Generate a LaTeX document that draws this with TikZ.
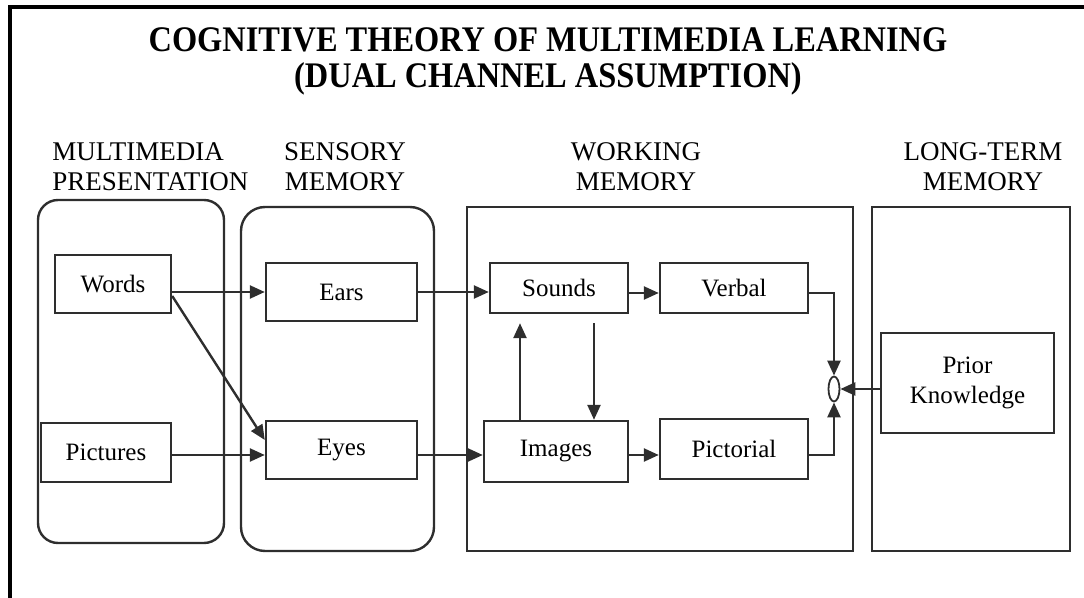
\documentclass[tikz,border=0pt]{standalone}
\usepackage{fontspec}
\setmainfont{Liberation Serif}
\usetikzlibrary{arrows.meta,calc,shapes.geometric}
\definecolor{ink}{HTML}{2E2E2E}
\begin{document}
\begin{tikzpicture}[x=0.5pt,y=-0.5pt,
  box/.style={draw=ink,line width=1.2pt,inner sep=0pt,align=center,
    font=\fontsize{12.5}{15}\selectfont},
  group/.style={draw=ink,line width=1.2pt},
  arr/.style={draw=ink,line width=1.2pt,-{Triangle[length=7.5pt,width=6.5pt]}},
  hdr/.style={inner sep=0pt,anchor=north,align=center,
    font=\fontsize{13.5}{15}\selectfont},
  ttl/.style={inner sep=0pt,anchor=north,align=center,
    font=\fontsize{18}{18}\selectfont\bfseries}]
\useasboundingbox (0,0) rectangle (1084,598);

% page frame (top and left rules)
\draw[line width=2pt,black] (10,598) -- (10,7) -- (1084,7);

% title, set in a slightly condensed bold face
\node[ttl] (title) at (548,27) {\scalebox{0.9}[1]{COGNITIVE THEORY OF MULTIMEDIA LEARNING}\\
  \scalebox{0.9}[1]{(DUAL CHANNEL ASSUMPTION)}};

% column headings
\node[hdr,anchor=north west,align=left] (h1) at (52,142) {MULTIMEDIA\\PRESENTATION};
\node[hdr] (h2) at (345,142) {SENSORY\\MEMORY};
\node[hdr] (h3) at (636,142) {WORKING\\MEMORY};
\node[hdr] (h4) at (983,142) {LONG-TERM\\MEMORY};

% stage containers
\draw[group,rounded corners=10pt] (38,200) rectangle (224,543);
\draw[group,rounded corners=12pt] (241,207) rectangle (434,551);
\draw[group] (467,207) rectangle (853,551);
\draw[group] (872,207) rectangle (1070,551);

% boxes
\node[box,minimum width=58pt,minimum height=29pt] (words) at (113,284) {Words};
\node[box,minimum width=65pt,minimum height=29.5pt] (pictures) at (106,452.5) {Pictures};
\node[box,minimum width=75.5pt,minimum height=29pt] (ears) at (341.5,292) {Ears};
\node[box,minimum width=75.5pt,minimum height=29pt] (eyes) at (341.5,450) {Eyes};
\node[box,minimum width=69pt,minimum height=25pt] (sounds) at (559,288) {Sounds};
\node[box,minimum width=74pt,minimum height=25pt] (verbal) at (734,288) {Verbal};
\node[box,minimum width=72pt,minimum height=30.5pt] (images) at (556,451.5) {Images};
\node[box,minimum width=74pt,minimum height=30pt] (pictorial) at (734,449) {Pictorial};
\node[box,minimum width=86.5pt,minimum height=50pt] (pk) at (967.5,383) {Prior\\Knowledge};
\node[draw=ink,line width=0.9pt,ellipse,inner sep=0pt,minimum width=5.5pt,minimum height=12.5pt] (join) at (834,389) {};

\coordinate (upx) at (520,0);
\coordinate (dnx) at (594,0);

% connectors
\draw[arr] (words.east |- ears.west) -- (ears.west);
\draw[arr] ($(words.east)+(0,12)$) -- ($(eyes.west)+(0,-10)$);
\draw[arr] ($(pictures.east)+(0,2.5)$) coordinate (p1) -- (p1 -| eyes.west);
\draw[arr] (ears.east) -- (ears.east -| sounds.west);
\draw[arr] ($(eyes.east)+(0,5)$) coordinate (e1) -- (e1 -| images.west);
\draw[arr] ($(sounds.east)+(0,5)$) coordinate (s1) -- (s1 -| verbal.west);
\draw[arr] ($(images.east)+(0,3.5)$) coordinate (i1) -- (i1 -| pictorial.west);
\draw[arr] (images.north -| upx) -- ($(sounds.south -| upx)+(0,9)$);
\draw[arr] ($(sounds.south -| dnx)+(0,9)$) -- (images.north -| dnx);
\draw[arr] ($(verbal.east)+(0,5)$) -| (join.north);
\draw[arr] ($(pictorial.east)+(0,6)$) -| (join.south);
\draw[arr] (pk.west |- join.east) -- (join.east);
\end{tikzpicture}
\end{document}
